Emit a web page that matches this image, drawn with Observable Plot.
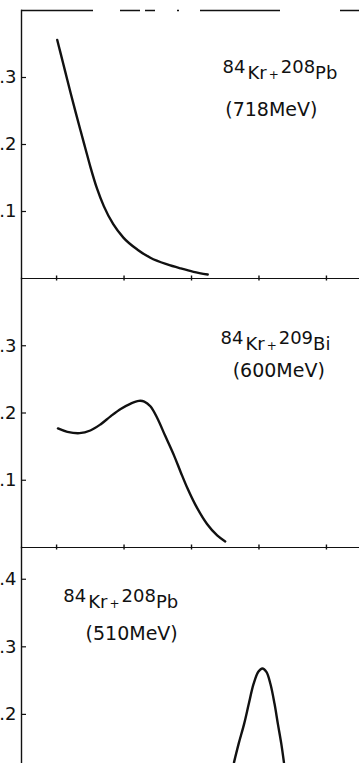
<!DOCTYPE html>
<html><head><meta charset="utf-8">
<script src="https://cdn.jsdelivr.net/npm/d3@7"></script>
<script src="https://cdn.jsdelivr.net/npm/@observablehq/plot@0.6"></script>
<style>
html,body{margin:0;padding:0;background:#fff;overflow:hidden}
#chart{position:relative;width:359px;height:763px;overflow:hidden;background:#fff}
#chart svg{position:absolute;left:0}
</style></head><body><div id="chart"></div>
<script>
// ---- data ----
const xTicks = [1, 2, 3, 4, 5];
const yTicksUpper = [0.1, 0.2, 0.3];
const yTicksLower = [0.1, 0.2, 0.3, 0.4];
const reactions = ["84Kr+208Pb", "84Kr+209Bi", "84Kr+208Pb"];
const energies = ["(718MeV)", "(600MeV)", "(510MeV)"];

const e718X = [1.01, 1.06, 1.13, 1.21, 1.28, 1.36, 1.43, 1.50, 1.60, 1.70, 1.84, 1.99, 2.20, 2.39, 2.64, 2.84, 3.03, 3.24];
const e718Y = [0.356, 0.336, 0.308, 0.276, 0.249, 0.219, 0.193, 0.167, 0.134, 0.108, 0.081, 0.061, 0.043, 0.031, 0.021, 0.015, 0.010, 0.006];

const e600X = [1.02, 1.16, 1.34, 1.50, 1.65, 1.80, 1.95, 2.10, 2.22, 2.30, 2.39, 2.49, 2.61, 2.74, 2.84, 2.94, 3.06, 3.23, 3.38, 3.50];
const e600Y = [0.177, 0.172, 0.170, 0.174, 0.183, 0.195, 0.206, 0.214, 0.218, 0.217, 0.210, 0.193, 0.166, 0.137, 0.112, 0.088, 0.063, 0.035, 0.018, 0.009];

const e510X = [3.63, 3.70, 3.78, 3.85, 3.92, 3.99, 4.05, 4.11, 4.17, 4.23, 4.28, 4.33, 4.37];
const e510Y = [0.129, 0.157, 0.186, 0.216, 0.245, 0.263, 0.268, 0.263, 0.245, 0.216, 0.186, 0.157, 0.129];

// ---- layout ----
const panels = [
  {xs: e718X, ys: e718Y, title: reactions[0], energy: energies[0], yTicks: yTicksUpper,
   domain: [0, 0.4], top: 0, height: 281, mt: 10, mb: 3, dashedTop: true, curve: "monotone-x",
   titleAt: [3.46, 0.2985], energyAt: [3.50, 0.243]},
  {xs: e600X, ys: e600Y, title: reactions[1], energy: energies[1], yTicks: yTicksUpper,
   domain: [0, 0.4], top: 275, height: 275, mt: 3, mb: 3, dashedTop: false, curve: "catmull-rom",
   titleAt: [3.43, 0.294], energyAt: [3.61, 0.254]},
  {xs: e510X, ys: e510Y, title: reactions[2], energy: energies[2], yTicks: yTicksLower,
   domain: [0, 0.447], top: 544, height: 310, mt: 3, mb: 5, dashedTop: false, curve: "catmull-rom",
   titleAt: [1.10, 0.357], energyAt: [1.43, 0.310]}
];

const ink = "#111";
const root = document.getElementById("chart");

for (const p of panels) {
  const pts = p.xs.map((x, i) => ({x, y: p.ys[i]}));
  const marks = [
    Plot.frame({anchor: "left", stroke: ink, strokeWidth: 1.4}),
    Plot.axisY(p.yTicks, {anchor: "left", tickSize: 5, dx: 5, tickFormat: () => "", stroke: ink, strokeWidth: 1.2}),
    Plot.axisY(p.yTicks, {anchor: "left", tickSize: 0, tickPadding: 5, tickFormat: d3.format(".1f"), fontSize: 18, fill: ink}),
    Plot.ruleY([0], {stroke: ink, strokeWidth: 1.2}),
    Plot.axisX(xTicks, {anchor: "bottom", tickSize: 5, dy: -2.5, tickFormat: () => "", stroke: ink, strokeWidth: 1.4}),
    Plot.line(pts, {x: "x", y: "y", curve: p.curve, stroke: ink, strokeWidth: 2.4}),
    Plot.text([p.title], {x: p.titleAt[0], y: p.titleAt[1], text: d => d, textAnchor: "start", lineAnchor: "bottom", fontSize: 18, fill: ink}),
    Plot.text([p.energy], {x: p.energyAt[0], y: p.energyAt[1], text: d => d, textAnchor: "start", lineAnchor: "bottom", fontSize: 19, fill: ink})
  ];
  if (p.dashedTop) marks.push(Plot.ruleY([p.domain[1]], {stroke: ink, strokeWidth: 1.3, strokeDasharray: "72,27,20,5,10,22,2,21,80,60,40"}));

  const svg = Plot.plot({
    width: 359, height: p.height,
    marginLeft: 21, marginRight: 0, marginTop: p.mt, marginBottom: p.mb,
    x: {domain: [0.48, 5.49], label: null},
    y: {domain: p.domain, label: null},
    style: {background: "transparent", fontFamily: "DejaVu Sans", color: ink, overflow: "visible"},
    marks
  });
  svg.style.top = p.top + "px";

  d3.select(svg).selectAll("text").each(function () {
    const m = /^(\d+)([A-Za-z]+)\+(\d+)([A-Za-z]+)$/.exec(this.textContent);
    if (!m) return;
    const t = d3.select(this);
    t.selectAll("*").remove();
    t.text(null);
    t.append("tspan").attr("dy", -6).text(m[1]);
    t.append("tspan").attr("dy", 6).attr("dx", 2).text(m[2]);
    t.append("tspan").attr("font-size", 12).attr("dx", 2).text("+");
    t.append("tspan").attr("dy", -6).attr("dx", 2).text(m[3]);
    t.append("tspan").attr("dy", 6).text(m[4]);
  });

  root.appendChild(svg);
}
</script></body></html>
